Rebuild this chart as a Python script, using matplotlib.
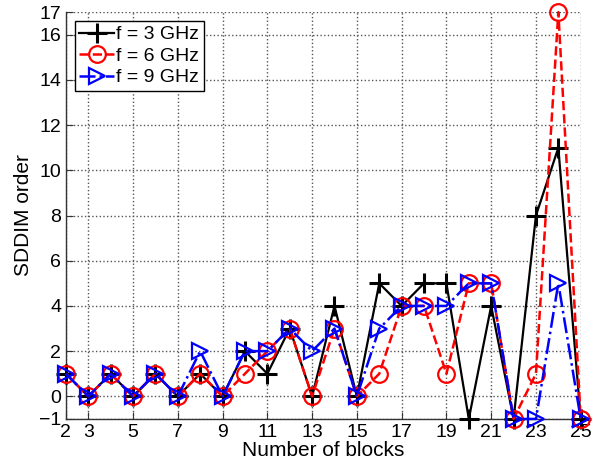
import matplotlib
matplotlib.use("Agg")
import matplotlib.pyplot as plt
import numpy as np

# SDDIM order versus number of blocks, one series per frequency
blocks = np.arange(2, 26)
order_3ghz = [1, 0, 1, 0, 1, 0, 1, 0, 2, 1, 3, 0, 4, 0, 5, 4, 5, 5, -1, 4, -1, 8, 11, -1]
order_6ghz = [1, 0, 1, 0, 1, 0, 1, 0, 1, 2, 3, 0, 3, 0, 1, 4, 4, 1, 5, 5, -1, 1, 17, -1]
order_9ghz = [1, 0, 1, 0, 1, 0, 2, 0, 2, 2, 3, 2, 3, 0, 3, 4, 4, 4, 5, 5, -1, -1, 5, -1]

xticks = [2, 3, 5, 7, 9, 11, 13, 15, 17, 19, 21, 23, 25]
yticks = [-1, 0, 2, 4, 6, 8, 10, 12, 14, 16, 17]

plt.rcParams['font.family'] = ['Liberation Sans', 'DejaVu Sans']

fig = plt.figure(figsize=(6.1, 4.66), dpi=100)
ax = fig.add_axes([0.108, 0.101, 0.844, 0.873])

# markers sit on the axis edges, so don't clip them
ax.plot(blocks, order_3ghz, color='black', ls='-', lw=1.6, marker='+',
        ms=15, mew=2.2, label='f = 3 GHz', clip_on=False, zorder=3)
ax.plot(blocks, order_6ghz, color='red', ls='--', lw=1.8, marker='o',
        ms=12, mew=1.6, mfc='none', label='f = 6 GHz', clip_on=False, zorder=4)
ax.plot(blocks, order_9ghz, color='blue', ls='-.', lw=1.8, marker='>',
        ms=12, mew=1.6, mfc='none', label='f = 9 GHz', clip_on=False, zorder=5)

ax.set_xlim(2, 25)
ax.set_ylim(-1, 17)
ax.set_xticks(xticks)
ax.set_yticks(yticks)
ax.tick_params(direction='in', labelsize=14, length=5, color='#333333')
ax.grid(True, ls=':', color='#555555', lw=1.0)

for side in ['top', 'right']:
    ax.spines[side].set_visible(False)
for side in ['left', 'bottom']:
    ax.spines[side].set_color('#333333')
    ax.spines[side].set_linewidth(1.0)

ax.set_xlabel('Number of blocks', fontsize=15, labelpad=0)
ax.set_ylabel('SDDIM order', fontsize=15)

leg = ax.legend(loc='upper left', fontsize=14, fancybox=False, framealpha=1,
                edgecolor='black', handlelength=1.8, handletextpad=0.1,
                borderpad=0.25, labelspacing=0.2, borderaxespad=0.45)
leg.set_zorder(10)
leg.get_frame().set_linewidth(1.0)

fig.savefig('out.png', dpi=100)
